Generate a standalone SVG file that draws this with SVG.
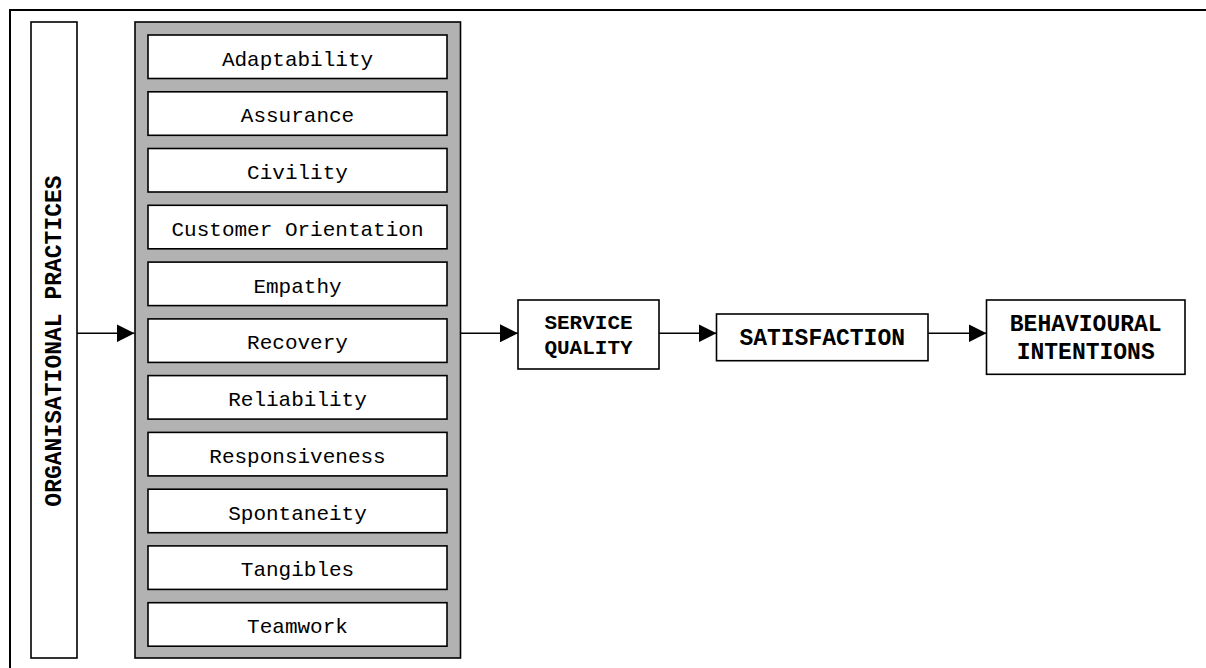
<svg xmlns="http://www.w3.org/2000/svg" width="1206" height="668" viewBox="0 0 1206 668">
<style>
.box{fill:#fff;stroke:#000;stroke-width:1.6}
.item{font-family:"Liberation Mono","Courier New",monospace;font-size:21px;fill:#000;text-anchor:middle}
.bold{font-family:"Liberation Mono","Courier New",monospace;font-weight:bold;fill:#000;text-anchor:middle}
.conn{stroke:#000;stroke-width:1.6;fill:none;marker-end:url(#ah)}
</style>
<defs>
<marker id="ah" viewBox="0 0 18 18" refX="18" refY="9" markerWidth="18" markerHeight="18" markerUnits="userSpaceOnUse" orient="auto">
<path d="M0,0 L18,9 L0,18 Z" fill="#000"/>
</marker>
</defs>
<rect width="1206" height="668" fill="#fff"/>
<g id="frame">
<path d="M10,668 L10,10 L1206,10" fill="none" stroke="#000" stroke-width="2"/>
</g>
<g id="organisational-practices">
<rect class="box" x="31" y="22" width="46" height="636"/>
<text class="bold" font-size="23" transform="translate(61,341) rotate(-90)">ORGANISATIONAL PRACTICES</text>
</g>
<g id="dimensions">
<rect x="135" y="22" width="325.5" height="636" fill="#b2b2b2" stroke="#000" stroke-width="1.6"/>
<g id="adaptability"><rect class="box" x="148" y="35" width="299" height="43.5"/><text class="item" x="297.5" y="65.5">Adaptability</text></g>
<g id="assurance"><rect class="box" x="148" y="91.8" width="299" height="43.5"/><text class="item" x="297.5" y="122.3">Assurance</text></g>
<g id="civility"><rect class="box" x="148" y="148.5" width="299" height="43.5"/><text class="item" x="297.5" y="179">Civility</text></g>
<g id="customer-orientation"><rect class="box" x="148" y="205.3" width="299" height="43.5"/><text class="item" x="297.5" y="235.8">Customer Orientation</text></g>
<g id="empathy"><rect class="box" x="148" y="262.1" width="299" height="43.5"/><text class="item" x="297.5" y="292.6">Empathy</text></g>
<g id="recovery"><rect class="box" x="148" y="318.9" width="299" height="43.5"/><text class="item" x="297.5" y="349.4">Recovery</text></g>
<g id="reliability"><rect class="box" x="148" y="375.6" width="299" height="43.5"/><text class="item" x="297.5" y="406.1">Reliability</text></g>
<g id="responsiveness"><rect class="box" x="148" y="432.4" width="299" height="43.5"/><text class="item" x="297.5" y="462.9">Responsiveness</text></g>
<g id="spontaneity"><rect class="box" x="148" y="489.2" width="299" height="43.5"/><text class="item" x="297.5" y="519.7">Spontaneity</text></g>
<g id="tangibles"><rect class="box" x="148" y="545.9" width="299" height="43.5"/><text class="item" x="297.5" y="576.4">Tangibles</text></g>
<g id="teamwork"><rect class="box" x="148" y="602.7" width="299" height="43.5"/><text class="item" x="297.5" y="633.2">Teamwork</text></g>
</g>
<g id="service-quality">
<rect class="box" x="518" y="300" width="141" height="69"/>
<text class="bold" font-size="21" x="588.5" y="329">SERVICE</text>
<text class="bold" font-size="21" x="588.5" y="354">QUALITY</text>
</g>
<g id="satisfaction">
<rect class="box" x="716.5" y="314" width="211.5" height="46.7"/>
<text class="bold" font-size="23" x="822.2" y="345">SATISFACTION</text>
</g>
<g id="behavioural-intentions">
<rect class="box" x="986.5" y="300" width="198.5" height="74.3"/>
<text class="bold" font-size="23" x="1085.7" y="331">BEHAVIOURAL</text>
<text class="bold" font-size="23" x="1085.7" y="359">INTENTIONS</text>
</g>
<g id="connectors">
<line class="conn" x1="77" y1="333.3" x2="134.5" y2="333.3"/>
<line class="conn" x1="460.5" y1="333.3" x2="518" y2="333.3"/>
<line class="conn" x1="659" y1="333.3" x2="716.5" y2="333.3"/>
<line class="conn" x1="928" y1="333.3" x2="986.5" y2="333.3"/>
</g>
</svg>
